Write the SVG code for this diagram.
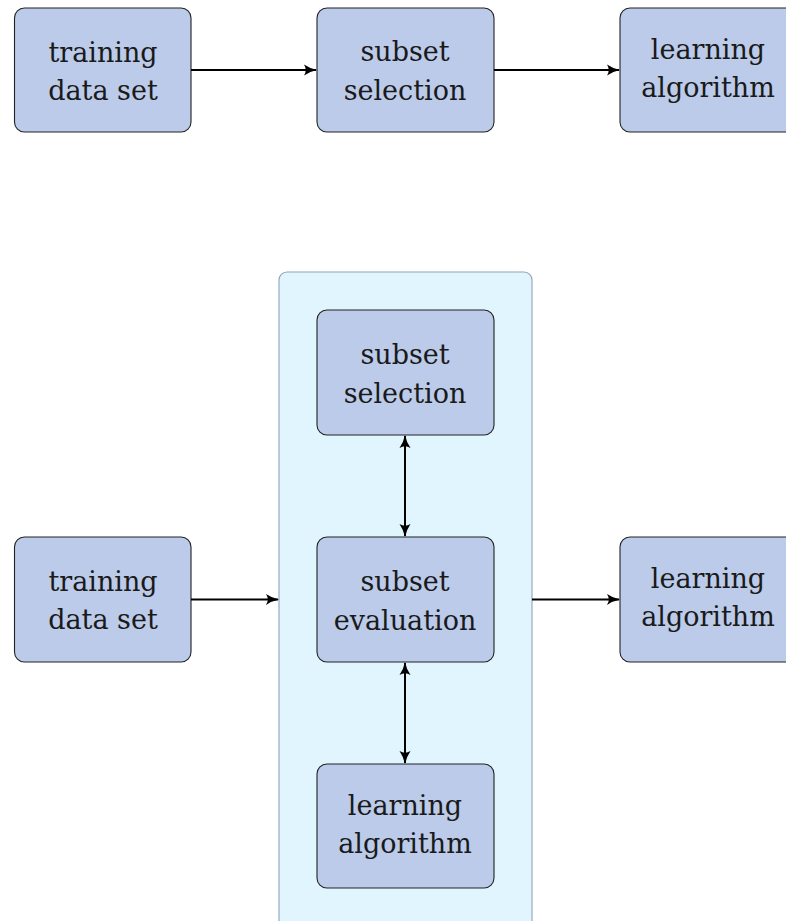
<svg xmlns="http://www.w3.org/2000/svg" width="786" height="921" viewBox="0 0 786 921">
<style>
.node{fill:#bbcbe9;stroke:#222;stroke-width:1.1}
.cont{fill:#e0f5fe;stroke:#8fa3b8;stroke-width:1.1}
.lbl{font-family:'DejaVu Serif','Liberation Serif','Noto Serif',serif;font-size:27px;fill:#1a1a1a;text-anchor:middle}
.edge{stroke:#000;stroke-width:2;fill:none}
</style>
<defs>
<marker id="ah" viewBox="0 0 13 12" refX="12" refY="6" markerWidth="13" markerHeight="12" orient="auto-start-reverse" markerUnits="userSpaceOnUse">
<path d="M0,0.5 Q6,4.6 13,6 Q6,7.4 0,11.5 Q3.5,6 0,0.5 Z" fill="#000"/>
</marker>
</defs>
<rect width="786" height="921" fill="#fff"/>
<g id="container">
<rect class="cont" x="279" y="272" width="253" height="660" rx="8"/>
</g>
<g id="top-training">
<rect class="node" x="14.5" y="8" width="176.5" height="124" rx="10"/>
<text class="lbl" x="103" y="62">training</text>
<text class="lbl" x="103" y="100">data set</text>
</g>
<g id="top-subset-selection">
<rect class="node" x="317" y="8" width="177" height="124" rx="10"/>
<text class="lbl" x="405" y="61">subset</text>
<text class="lbl" x="405" y="100">selection</text>
</g>
<g id="top-learning">
<rect class="node" x="620" y="8" width="177" height="124" rx="10"/>
<text class="lbl" x="708" y="59">learning</text>
<text class="lbl" x="708" y="97">algorithm</text>
</g>
<g id="bot-training">
<rect class="node" x="14.5" y="537" width="176.5" height="125" rx="10"/>
<text class="lbl" x="103" y="591">training</text>
<text class="lbl" x="103" y="629">data set</text>
</g>
<g id="in-subset-selection">
<rect class="node" x="317" y="310" width="177" height="125" rx="10"/>
<text class="lbl" x="405" y="364">subset</text>
<text class="lbl" x="405" y="403">selection</text>
</g>
<g id="in-subset-evaluation">
<rect class="node" x="317" y="537" width="177" height="125" rx="10"/>
<text class="lbl" x="405" y="591">subset</text>
<text class="lbl" x="405" y="630">evaluation</text>
</g>
<g id="in-learning">
<rect class="node" x="317" y="764" width="177" height="124" rx="10"/>
<text class="lbl" x="405" y="815">learning</text>
<text class="lbl" x="405" y="853">algorithm</text>
</g>
<g id="bot-learning">
<rect class="node" x="620" y="537" width="177" height="125" rx="10"/>
<text class="lbl" x="708" y="588">learning</text>
<text class="lbl" x="708" y="626">algorithm</text>
</g>
<g id="connectors">
<line class="edge" x1="191" y1="70" x2="316" y2="70" marker-end="url(#ah)"/>
<line class="edge" x1="494" y1="70" x2="619" y2="70" marker-end="url(#ah)"/>
<line class="edge" x1="191" y1="599.5" x2="278" y2="599.5" marker-end="url(#ah)"/>
<line class="edge" x1="532" y1="599.5" x2="619" y2="599.5" marker-end="url(#ah)"/>
<line class="edge" x1="405" y1="436" x2="405" y2="536" marker-start="url(#ah)" marker-end="url(#ah)"/>
<line class="edge" x1="405" y1="663" x2="405" y2="763" marker-start="url(#ah)" marker-end="url(#ah)"/>
</g>
</svg>
